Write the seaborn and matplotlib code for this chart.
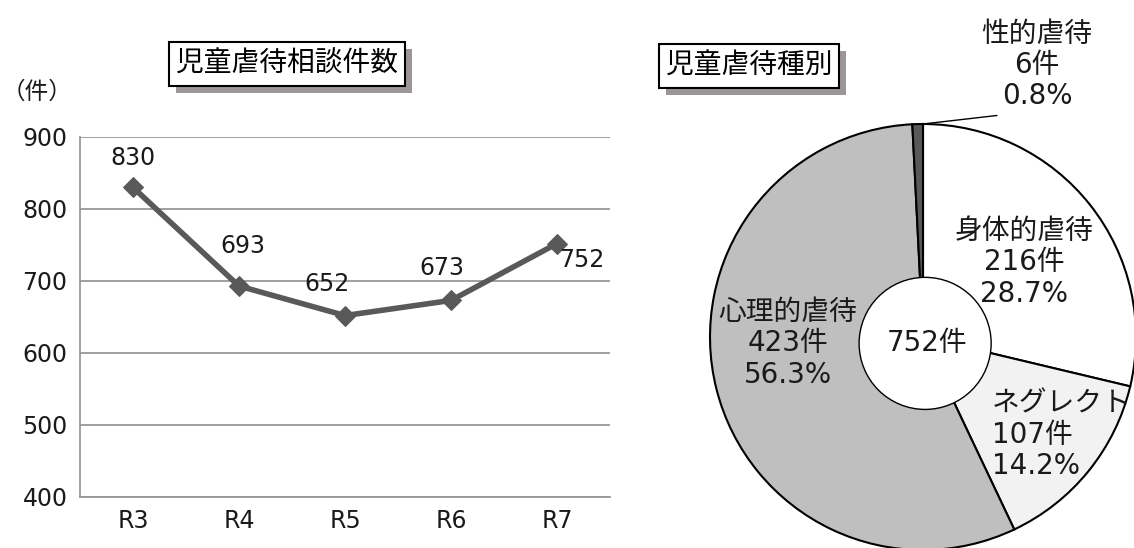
# 児童虐待相談件数 / 児童虐待種別

import matplotlib
matplotlib.use("Agg")
import matplotlib.pyplot as plt
import matplotlib.patheffects as pe
import pandas as pd
import seaborn as sns

# data
years = ["R3", "R4", "R5", "R6", "R7"]
counts = [830, 693, 652, 673, 752]

kinds = ["身体的虐待", "ネグレクト", "心理的虐待", "性的虐待"]
kind_counts = [216, 107, 423, 6]
kind_pcts = [28.7, 14.2, 56.3, 0.8]
total = 752

sns.set_theme(style="white")
plt.rcParams['font.family'] = ['DejaVu Sans', 'Noto Sans CJK JP']
TXT = '#1a1a1a'

fig = plt.figure(figsize=(11.34, 5.48), dpi=100)

# ---- line chart
ax = fig.add_axes([80 / 1134, 51 / 548, 530 / 1134, 360 / 548])
df = pd.DataFrame({'year': years, 'count': counts})
sns.lineplot(data=df, x='year', y='count', ax=ax, color='#595959', linewidth=4,
             marker='D', markersize=10.5, markeredgecolor='#595959', sort=False)
ax.set_xlim(-0.5, 4.5)
ax.set_ylim(400, 900)
ax.set_yticks(range(400, 901, 100))
ax.set_xticks(range(len(years)))
ax.set_xticklabels(years)
ax.set_xticks([i - 0.5 for i in range(len(years) + 1)], minor=True)
ax.tick_params(axis='x', which='major', length=0, labelsize=17, pad=9, colors=TXT)
ax.tick_params(axis='x', which='minor', length=5, width=1.3, color='#999999', direction='out')
ax.tick_params(axis='y', length=5, width=1.3, color='#999999', direction='out', labelsize=17,
               pad=4, labelcolor=TXT)
ax.grid(axis='y', color='#999999', linewidth=1.3)
ax.set_axisbelow(True)
for s in ['top', 'right']:
    ax.spines[s].set_visible(False)
for s in ['left', 'bottom']:
    ax.spines[s].set_color('#999999')
    ax.spines[s].set_linewidth(1.3)
ax.set_xlabel('')
ax.set_ylabel('')

offsets = [(0, 21.5), (3, 29), (-13, 23), (-6.5, 23), (18, -12)]
for i, (v, off) in enumerate(zip(counts, offsets)):
    ax.annotate(str(v), (i, v), xytext=off, textcoords='offset points',
                ha='center', va='center', fontsize=17, color=TXT)

fig.text(37 / 1134, 1 - 92 / 548, '（件）', ha='center', va='center', fontsize=17,
         color=TXT, family=['Noto Sans CJK JP', 'DejaVu Sans'])

def title_box(x, y, s):
    t = fig.text(x / 1134, 1 - y / 548, s, ha='center', va='center', fontsize=20,
                 color='black', family=['Noto Sans CJK JP', 'DejaVu Sans'],
                 bbox=dict(boxstyle='square,pad=0.25', fc='white', ec='black', lw=1.5))
    t.get_bbox_patch().set_path_effects([
        pe.SimplePatchShadow(offset=(5, -5), shadow_rgbFace='#5a5050', alpha=0.6),
        pe.Normal()])

title_box(287, 64, '児童虐待相談件数')
title_box(749, 66, '児童虐待種別')

# ---- pie chart (centre ~ (923, 337), radius ~213 px)
R = 213
pax = fig.add_axes([(923 - R) / 1134, (548 - 337 - R) / 548, 2 * R / 1134, 2 * R / 548])
colors = ['#ffffff', '#f2f2f2', '#bfbfbf', '#595959']
wedges, _ = pax.pie(kind_counts, colors=colors, startangle=90, counterclock=False,
                    radius=1.0, wedgeprops=dict(edgecolor='black', linewidth=1.5))
for w in wedges:
    w.set_clip_on(False)
pax.set_xlim(-1, 1)
pax.set_ylim(-1, 1)
pax.set_aspect('equal')
pax.axis('off')

centre = plt.Circle((0.01, -0.03), 0.31, fc='white', ec='black', lw=1.0, zorder=5)
pax.add_patch(centre)
pax.text(0.02, -0.03, f'{total}件', ha='center', va='center', fontsize=20, zorder=6, color=TXT)

label_pos = [(0.475, 0.35, 'center'), (0.324, -0.46, 'left'),
             (-0.634, -0.03, 'center'), (0.535, 1.277, 'center')]
for name, n, p, (lx, ly, ha) in zip(kinds, kind_counts, kind_pcts, label_pos):
    pax.text(lx, ly, f'{name}\n{n}件\n{p}%', ha=ha, va='center', ma=ha, fontsize=20,
             linespacing=1.15, color=TXT, zorder=6, clip_on=False)

# leader line for 性的虐待
pax.annotate('', xy=(0.0, 1.0), xytext=(0.347, 1.04),
             arrowprops=dict(arrowstyle='-', color='black', lw=1.0, shrinkA=0, shrinkB=0),
             annotation_clip=False)

fig.savefig('out.png', dpi=100)
